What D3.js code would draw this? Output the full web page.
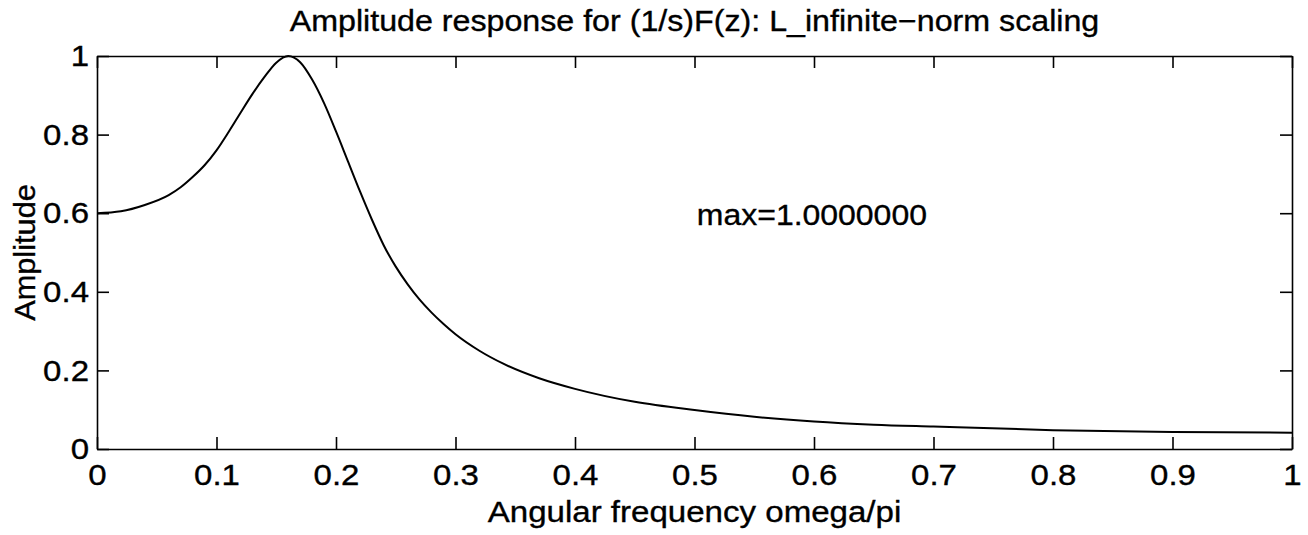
<!DOCTYPE html>
<html>
<head>
<meta charset="utf-8">
<script src="https://cdn.jsdelivr.net/npm/d3@7"></script>
<style>
  html, body { margin: 0; padding: 0; background: #fff; }
  svg text { font-family: "Liberation Sans", Arial, Helvetica, sans-serif; fill: #000; stroke: #000; stroke-width: 0.35px; }
</style>
</head>
<body>
<svg id="chart" width="1308" height="535"></svg>
<script>
// ---- data ----
const freq = [0, 0.02, 0.04, 0.06, 0.07, 0.08, 0.09, 0.10, 0.11, 0.12, 0.13, 0.14, 0.15, 0.16, 0.17, 0.18, 0.19, 0.20, 0.21, 0.22, 0.23, 0.24, 0.25, 0.26, 0.27, 0.28, 0.29, 0.30, 0.32, 0.34, 0.37, 0.40, 0.45, 0.50, 0.55, 0.60, 0.65, 0.70, 0.80, 0.90, 1.00];
const amplitude = [0.600, 0.605, 0.621, 0.646, 0.666, 0.692, 0.722, 0.760, 0.806, 0.855, 0.903, 0.946, 0.983, 1.000, 0.984, 0.940, 0.880, 0.808, 0.732, 0.656, 0.584, 0.518, 0.464, 0.419, 0.380, 0.347, 0.318, 0.292, 0.250, 0.217, 0.180, 0.153, 0.120, 0.099, 0.082, 0.070, 0.062, 0.057, 0.048, 0.043, 0.0415];
const xTicks = [0, 0.1, 0.2, 0.3, 0.4, 0.5, 0.6, 0.7, 0.8, 0.9, 1];
const xTickLabels = ["0", "0.1", "0.2", "0.3", "0.4", "0.5", "0.6", "0.7", "0.8", "0.9", "1"];
const yTicks = [0, 0.2, 0.4, 0.6, 0.8, 1];
const yTickLabels = ["0", "0.2", "0.4", "0.6", "0.8", "1"];
const titleText = "Amplitude response for (1/s)F(z): L_infinite\u2212norm scaling";
const xLabelText = "Angular frequency omega/pi";
const yLabelText = "Amplitude";
const annotationText = "max=1.0000000";
const annotationPos = [0.502, 0.57];

// ---- layout ----
const svg = d3.select("#chart");
const L = 97, R = 1292, T = 56, B = 449;
const x = d3.scaleLinear().domain([0, 1]).range([L, R]);
const y = d3.scaleLinear().domain([0, 1]).range([B, T]);

function stretch(sel, k) {
  sel.each(function () {
    const n = this.getComputedTextLength();
    d3.select(this).attr("textLength", n * k).attr("lengthAdjust", "spacingAndGlyphs");
  });
}

const tickLen = 12;
const axStroke = 1.6;

function styleAxis(g) {
  g.selectAll("path.domain").attr("stroke", "#000").attr("stroke-width", axStroke);
  g.selectAll(".tick line").attr("stroke", "#000").attr("stroke-width", axStroke);
}

// bottom axis
const gB = svg.append("g").attr("transform", `translate(0,${B})`)
  .call(d3.axisBottom(x).tickValues(xTicks).tickFormat((d, i) => xTickLabels[i])
    .tickSizeInner(-tickLen).tickSizeOuter(0).tickPadding(15));
styleAxis(gB);
gB.selectAll("text").attr("font-size", 30).attr("font-family", "Liberation Sans, Arial, sans-serif").attr("fill", "#000");
stretch(gB.selectAll("text"), 1.1);

// top axis
const gT = svg.append("g").attr("transform", `translate(0,${T})`)
  .call(d3.axisTop(x).tickValues(xTicks).tickFormat("").tickSizeInner(-tickLen).tickSizeOuter(0));
styleAxis(gT);

// left axis
const gL = svg.append("g").attr("transform", `translate(${L},0)`)
  .call(d3.axisLeft(y).tickValues(yTicks).tickFormat((d, i) => yTickLabels[i])
    .tickSizeInner(-tickLen).tickSizeOuter(0).tickPadding(8));
styleAxis(gL);
gL.selectAll("text").attr("font-size", 30).attr("font-family", "Liberation Sans, Arial, sans-serif").attr("fill", "#000");
stretch(gL.selectAll("text"), 1.1);

// right axis
const gR = svg.append("g").attr("transform", `translate(${R},0)`)
  .call(d3.axisRight(y).tickValues(yTicks).tickFormat("").tickSizeInner(-tickLen).tickSizeOuter(0));
styleAxis(gR);

// curve
const pts = freq.map((f, i) => [f, amplitude[i]]);
svg.append("path")
  .datum(pts)
  .attr("fill", "none")
  .attr("stroke", "#000")
  .attr("stroke-width", 2)
  .attr("d", d3.line().x(d => x(d[0])).y(d => y(d[1])).curve(d3.curveMonotoneX));

// title
const title = svg.append("text")
  .attr("x", (L + R) / 2).attr("y", 31)
  .attr("text-anchor", "middle").attr("font-size", 29)
  .text(titleText);
stretch(title, 1.11);

// x label
const xl = svg.append("text")
  .attr("x", (L + R) / 2).attr("y", 522)
  .attr("text-anchor", "middle").attr("font-size", 29)
  .text(xLabelText);
stretch(xl, 1.14);

// y label
const yl = svg.append("text")
  .attr("transform", `translate(35,${(T + B) / 2}) rotate(-90)`)
  .attr("text-anchor", "middle").attr("font-size", 29)
  .text(yLabelText);
stretch(yl, 1.06);

// annotation
const ann = svg.append("text")
  .attr("x", x(annotationPos[0])).attr("y", y(annotationPos[1]))
  .attr("font-size", 30)
  .text(annotationText);
stretch(ann, 1.065);
</script>
</body>
</html>
